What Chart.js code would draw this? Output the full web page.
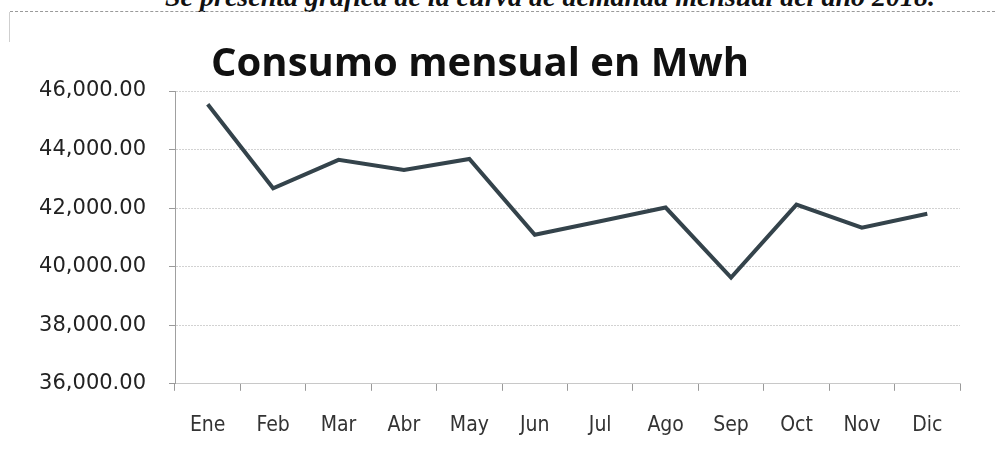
<!DOCTYPE html>
<html>
<head>
<meta charset="utf-8">
<script src="https://cdn.jsdelivr.net/npm/chart.js@4"></script>
<style>
  html, body { margin: 0; padding: 0; background: #fff; }
  #wrap { position: relative; width: 995px; height: 460px; overflow: hidden; background: #fff; }
  #caption {
    position: absolute; left: 165px; top: -19px; line-height: 28px;
    font: italic bold 28px "Liberation Serif", serif; color: #111; white-space: nowrap;
  }
  #hline { position: absolute; left: 10px; top: 11px; width: 985px; border-top: 1px dashed #9a9a9a; }
  #vline { position: absolute; left: 9px; top: 12px; height: 30px; border-left: 1px solid #cfcfcf; }
  #chart { position: absolute; left: 0; top: 0; }
</style>
</head>
<body>
<div id="wrap">
  <div id="caption">Se presenta gráfica de la curva de demanda mensual del año 2018.</div>
  <div id="hline"></div>
  <div id="vline"></div>
  <canvas id="chart" width="995" height="460"></canvas>
</div>
<script>
const meses = ['Ene', 'Feb', 'Mar', 'Abr', 'May', 'Jun', 'Jul', 'Ago', 'Sep', 'Oct', 'Nov', 'Dic']
const consumo = [45550, 42680, 43650, 43300, 43680, 41090, 41550, 42020, 39630, 42120, 41330, 41810]
const yTicks = [36000, 38000, 40000, 42000, 44000, 46000]

const fmt = (v) => v.toLocaleString('en-US', { minimumFractionDigits: 2, maximumFractionDigits: 2 })

const data = {
  labels: meses,
  datasets: [{
    label: 'Consumo',
    data: consumo,
    borderColor: '#34434b',
    borderWidth: 4,
    pointRadius: 0,
    tension: 0,
    fill: false
  }]
}

const config = {
  type: 'line',
  data: data,
  options: {
    responsive: false,
    animation: false,
    devicePixelRatio: 1,
    layout: {
      padding: { left: 0, right: 35, top: 0, bottom: 0 }
    },
    plugins: {
      legend: { display: false },
      tooltip: { enabled: false },
      title: {
        display: true,
        text: 'Consumo mensual en Mwh',
        color: '#111',
        font: { family: '"Open Sans", sans-serif', size: 40, weight: 'bold' },
        padding: { top: 41, bottom: 2 }
      }
    },
    scales: {
      x: {
        offset: true,
        grid: {
          offset: true,
          drawOnChartArea: false,
          drawTicks: true,
          tickLength: 7,
          color: '#9a9a9a'
        },
        border: { display: true, color: '#c8c8c8', width: 1 },
        ticks: {
          color: '#333',
          padding: 22,
          font: { family: '"Liberation Sans Narrow", "DejaVu Sans Condensed", sans-serif', size: 21 }
        }
      },
      y: {
        min: 36000,
        max: 46000,
        afterFit: (s) => { s.width = 175 },
        afterBuildTicks: (s) => { s.ticks = yTicks.map(v => ({ value: v })) },
        grid: {
          color: '#d2d2d2',
          tickLength: 6,
          tickColor: '#9a9a9a'
        },
        border: { display: true, color: '#a0a0a0', width: 1, dash: [2, 1] },
        ticks: {
          color: '#222',
          padding: 23,
          font: { family: '"DejaVu Sans", sans-serif', size: 21 },
          callback: (v) => fmt(v)
        }
      }
    }
  }
}

const thechart = document.getElementById('chart').getContext('2d')
const mychart = new Chart(thechart, config)
</script>
</body>
</html>
